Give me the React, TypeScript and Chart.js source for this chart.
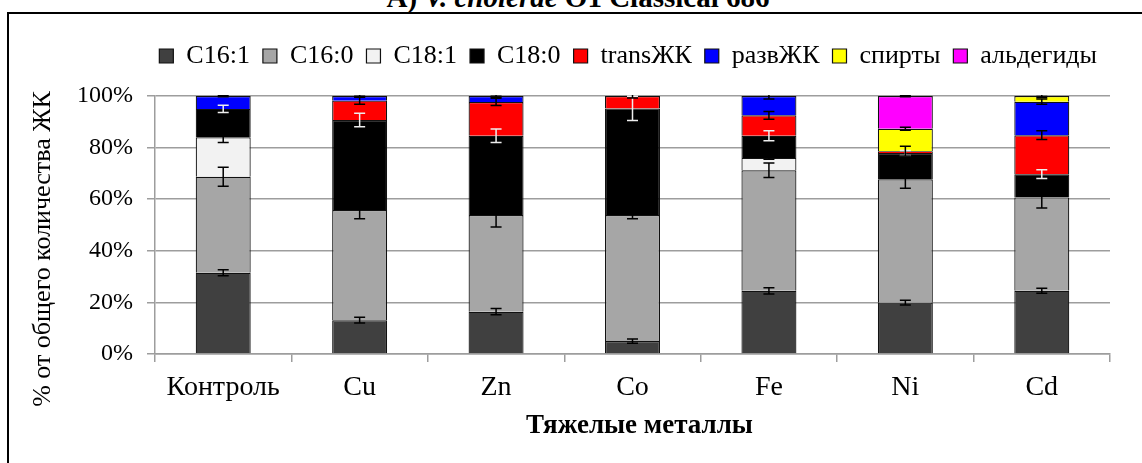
import React, { useEffect, useRef } from 'react';
import { Chart, registerables } from 'chart.js';

Chart.register(...registerables);

const categories = ['Контроль', 'Cu', 'Zn', 'Co', 'Fe', 'Ni', 'Cd'];
const seriesNames = ['C16:1', 'C16:0', 'C18:1', 'C18:0', 'transЖК', 'развЖК', 'спирты', 'альдегиды'];
const seriesColors = ['#404040', '#a6a6a6', '#f2f2f2', '#000000', '#ff0000', '#0000ff', '#ffff00', '#ff00ff'];
const errorColors = ['#000000', '#000000', '#000000', '#eeeeee', '#000000', '#000000', '#000000', '#000000'];

const c161 = [31.5, 13.1, 16.4, 5.0, 24.5, 19.9, 24.5];
const c160 = [37.2, 42.7, 37.5, 48.9, 46.7, 47.8, 36.2];
const c181 = [15.3, 0, 0, 0, 4.8, 0, 0];
const c180 = [11.0, 34.9, 30.7, 41.3, 8.6, 10.2, 9.0];
const transFA = [0, 7.5, 13.1, 4.8, 7.9, 0.7, 15.1];
const branchedFA = [5.0, 1.8, 2.3, 0, 7.5, 0, 13.0];
const alcohols = [0, 0, 0, 0, 0, 8.7, 2.2];
const aldehydes = [0, 0, 0, 0, 0, 12.7, 0];

const c161Err = [1.2, 1.1, 1.2, 0.8, 1.2, 0.9, 1.0];
const c160Err = [3.7, 3.4, 4.7, 1.5, 2.8, 3.5, 4.1];
const c181Err = [2.0, 0, 0, 0, 0.5, 0, 0];
const c180Err = [1.4, 2.6, 2.6, 4.7, 1.9, 1.0, 1.7];
const transErr = [0, 1.4, 1.4, 0.8, 1.5, 1.9, 1.7];
const branchedErr = [0.3, 0.5, 0.5, 0, 1.2, 0, 1.0];
const alcoholsErr = [0, 0, 0, 0, 0, 0.6, 0.6];
const aldehydesErr = [0, 0, 0, 0, 0, 0.3, 0];

const yTicks = [0, 20, 40, 60, 80, 100];

const xTitle = 'Тяжелые металлы';
const yTitle = '% от общего количества ЖК';

const seriesValues = [c161, c160, c181, c180, transFA, branchedFA, alcohols, aldehydes];
const seriesErrors = [c161Err, c160Err, c181Err, c180Err, transErr, branchedErr, alcoholsErr, aldehydesErr];

const FONT = "'Liberation Serif', 'Times New Roman', serif";

const errorBarPlugin = {
  id: 'errorBars',
  afterDatasetsDraw(chart: any) {
    const { ctx, chartArea, scales } = chart;
    const y = scales.y;
    const n = categories.length;
    const cum = new Array(n).fill(0);
    ctx.save();
    ctx.beginPath();
    ctx.rect(chartArea.left, chartArea.top - 1, chartArea.right - chartArea.left, chartArea.bottom - chartArea.top + 1);
    ctx.clip();
    ctx.lineWidth = 1.5;
    seriesValues.forEach((vals, si) => {
      const meta = chart.getDatasetMeta(si);
      for (let i = 0; i < n; i++) {
        const v = vals[i];
        cum[i] += v;
        const e = seriesErrors[si][i];
        if (!v || !e) continue;
        const el = meta.data[i];
        if (!el) continue;
        const x = el.x;
        const yt = y.getPixelForValue(cum[i] + e);
        const yb = y.getPixelForValue(cum[i] - e);
        ctx.strokeStyle = errorColors[si];
        ctx.beginPath();
        ctx.moveTo(x, yt);
        ctx.lineTo(x, yb);
        ctx.moveTo(x - 5.5, yt);
        ctx.lineTo(x + 5.5, yt);
        ctx.moveTo(x - 5.5, yb);
        ctx.lineTo(x + 5.5, yb);
        ctx.stroke();
      }
    });
    ctx.restore();
  },
};

const axisTitlesPlugin = {
  id: 'axisTitles',
  afterDraw(chart: any) {
    const { ctx, chartArea } = chart;
    ctx.save();
    ctx.fillStyle = '#000';
    ctx.textAlign = 'center';
    ctx.textBaseline = 'middle';
    ctx.font = `bold 27px ${FONT}`;
    ctx.fillText(xTitle, (chartArea.left + chartArea.right) / 2 + 7, chartArea.bottom + 72);
    ctx.font = `26px ${FONT}`;
    ctx.translate(43, (chartArea.top + chartArea.bottom) / 2 + 24);
    ctx.rotate(-Math.PI / 2);
    ctx.fillText(yTitle, 0, 0);
    ctx.restore();
  },
};

const legendSpacer = {
  id: 'legendSpacer',
  beforeInit(chart: any) {
    const legend = chart.legend;
    if (!legend) return;
    const orig = legend.fit;
    legend.fit = function () {
      orig.call(this);
      this.height += 17;
    };
  },
};

export default function App() {
  const ref = useRef<HTMLCanvasElement | null>(null);

  useEffect(() => {
    if (!ref.current) return;
    const chart = new Chart(ref.current, {
      type: 'bar',
      data: {
        labels: categories,
        datasets: seriesNames.map((name, si) => ({
          label: name,
          data: seriesValues[si].map((v) => (v === 0 ? null : v)),
          backgroundColor: seriesColors[si],
          borderColor: '#111111',
          borderWidth: 1.2,
          categoryPercentage: 1,
          barPercentage: 0.403,
        })),
      },
      options: {
        responsive: false,
        animation: false,
        devicePixelRatio: 1,
        layout: { padding: { top: 30, right: 32, left: 0, bottom: 0 } },
        plugins: {
          tooltip: { enabled: false },
          legend: {
            position: 'top',
            align: 'end',
            labels: {
              boxWidth: 14,
              boxHeight: 14,
              padding: 13,
              color: '#000',
              font: { family: FONT, size: 26 },
            },
          },
          title: { display: false },
        },
        scales: {
          x: {
            stacked: true,
            offset: true,
            afterFit: (s: any) => {
              s.height = 109;
            },
            grid: {
              offset: true,
              drawOnChartArea: false,
              drawTicks: true,
              tickLength: 8,
              color: '#9d9d9d',
              lineWidth: 1.5,
            },
            border: { color: '#9d9d9d', width: 1.5 },
            ticks: {
              color: '#000',
              padding: 9,
              font: { family: FONT, size: 28 },
            },
            title: { display: false },
          },
          y: {
            stacked: true,
            min: 0,
            max: 100,
            afterFit: (s: any) => {
              s.width = 155;
            },
            afterBuildTicks: (s: any) => {
              s.ticks = yTicks.map((v) => ({ value: v }));
            },
            grid: {
              color: '#9d9d9d',
              lineWidth: 1.5,
              tickLength: 8,
            },
            border: { color: '#9d9d9d', width: 1.5 },
            ticks: {
              color: '#000',
              padding: 14,
              font: { family: FONT, size: 24 },
              callback: (v: any) => `${v}%`,
            },
            title: { display: false },
          },
        },
      },
      plugins: [errorBarPlugin, legendSpacer, axisTitlesPlugin],
    });
    return () => chart.destroy();
  }, []);

  return (
    <div
      style={{
        position: 'fixed',
        left: 0,
        top: 0,
        width: 1142,
        height: 463,
        overflow: 'hidden',
        background: '#fff',
      }}
    >
      <div
        style={{
          position: 'absolute',
          left: 0,
          top: -17,
          width: 1156,
          textAlign: 'center',
          fontFamily: FONT,
          fontWeight: 'bold',
          fontSize: 29,
          lineHeight: '29px',
          whiteSpace: 'nowrap',
          color: '#000',
        }}
      >
        А) <i>V. cholerae</i> O1 Classical 686
      </div>
      <canvas
        ref={ref}
        width={1142}
        height={463}
        style={{ position: 'absolute', left: 0, top: 0, width: 1142, height: 463 }}
      />
      <div
        style={{
          position: 'absolute',
          left: 7,
          top: 12,
          width: 1150,
          height: 470,
          border: '2px solid #000',
          boxSizing: 'border-box',
          pointerEvents: 'none',
        }}
      />
    </div>
  );
}
